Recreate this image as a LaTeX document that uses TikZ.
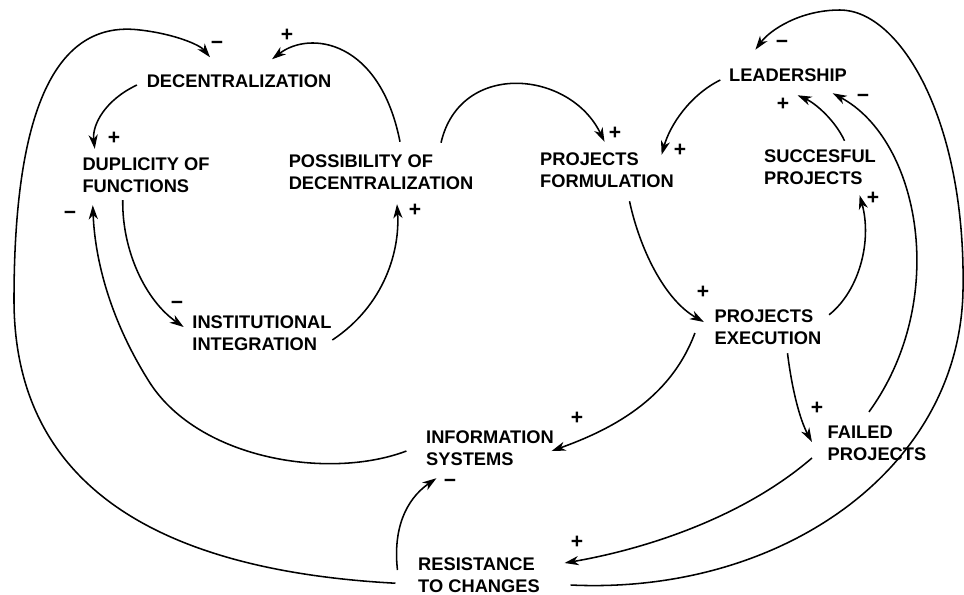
\documentclass[tikz,border=0pt]{standalone}
\usepackage{fontspec}
\setmainfont{Liberation Sans}
\usetikzlibrary{arrows.meta}

\begin{document}
\begin{tikzpicture}[->,>={Stealth[length=10pt,width=6.5pt,inset=3pt]},line width=1.1pt,
x=0.025cm,y=-0.025cm]
\tikzstyle{var}=[inner sep=0pt,align=left,font=\bfseries\fontsize{13}{15.6}\selectfont]
\tikzstyle{sign}=[inner sep=0pt,font=\bfseries\fontsize{15}{16}\selectfont]

\useasboundingbox (0,0) rectangle (964,594);

\node[var] (dec)  at (239,81)  {DECENTRALIZATION};
\node[var] (dup)  at (146,175) {DUPLICITY OF\\FUNCTIONS};
\node[var] (pos)  at (381,172) {POSSIBILITY OF\\DECENTRALIZATION};
\node[var] (pf)   at (607,170) {PROJECTS\\FORMULATION};
\node[var] (lead) at (788,75)  {LEADERSHIP};
\node[var] (succ) at (820,167) {SUCCESFUL\\PROJECTS};
\node[var] (inst) at (262,333) {INSTITUTIONAL\\INTEGRATION};
\node[var] (pe)   at (768,327) {PROJECTS\\EXECUTION};
\node[var] (info) at (490,448) {INFORMATION\\SYSTEMS};
\node[var] (fail) at (877,443) {FAILED\\PROJECTS};
\node[var] (res)  at (479,575) {RESISTANCE\\TO CHANGES};

% outer loops
\draw ([shift={(-22,-10)}]res.south west) .. controls (150,570) and (14,480) .. (14,300)
  .. controls (14,100) and (60,20) .. (140,30)
  .. controls (175,34) and (200,45) .. ([shift={(-29,-16.5)}]dec.north);
\draw ([shift={(30,10)}]res.east) .. controls (780,595) and (960,470) .. (963,290)
  .. controls (966,120) and (900,10) .. (840,10)
  .. controls (800,10) and (770,30) .. ([shift={(27,-18)}]lead.north west);
\draw ([shift={(-19,3)}]info.west) .. controls (330,480) and (200,460) .. (150,383)
  .. controls (110,320) and (95,260) .. ([shift={(11,12)}]dup.south west);

% left part
\draw ([shift={(-9,4)}]dec.west) .. controls (105,100) and (92,125) .. ([shift={(13,-8)}]dup.north west);
\draw ([shift={(19,-12)}]pos.north) .. controls (380,40) and (310,30) .. ([shift={(33,-14.5)}]dec.north);
\draw ([shift={(41,7)}]dup.south west) .. controls (122,250) and (145,300) .. ([shift={(-8,-6)}]inst.west);
\draw ([shift={(0,7)}]inst.east) .. controls (385,305) and (400,250) .. ([shift={(16,14)}]pos.south);
\draw ([shift={(-33,-11)}]pos.north east) .. controls (460,60) and (570,70) .. ([shift={(-2.5,-10)}]pf.north);

% right part
\draw ([shift={(-8,5)}]lead.west) .. controls (690,95) and (670,125) .. ([shift={(-13,3)}]pf.north east);
\draw ([shift={(42,-13)}]fail.north west) .. controls (950,300) and (920,140) .. ([shift={(-15,11)}]lead.south east);
\draw ([shift={(24.5,-8)}]succ.north) .. controls (835,120) and (815,103) .. ([shift={(9.5,13)}]lead.south);
\draw ([shift={(7,6)}]pe.north east) .. controls (860,290) and (872,240) .. ([shift={(-17,10)}]succ.south east);
\draw ([shift={(22.5,13)}]pf.south) .. controls (640,250) and (665,300) .. ([shift={(-10,-5)}]pe.west);
\draw ([shift={(-19,6)}]pe.west) .. controls (670,400) and (610,430) .. ([shift={(-3,3)}]info.east);
\draw ([shift={(19.5,8)}]pe.south) .. controls (792,390) and (800,420) .. ([shift={(-15,-1)}]fail.west);
\draw ([shift={(-15,15)}]fail.west) .. controls (740,520) and (640,550) .. ([shift={(24,-12)}]res.east);
\draw ([shift={(-20,-5)}]res.west) .. controls (393,530) and (405,500) .. ([shift={(11,12)}]info.south west);

% signs
\node[sign] (s1)  at (217,45)  {−};
\node[sign] (s2)  at (114,138) {+};
\node[sign] (s3)  at (287,35)  {+};
\node[sign] (s4)  at (615,133) {+};
\node[sign] (s5)  at (680,150) {+};
\node[sign] (s6)  at (782,44)  {−};
\node[sign] (s7)  at (863,98)  {−};
\node[sign] (s8)  at (783,104) {+};
\node[sign] (s9)  at (873,198) {+};
\node[sign] (s10) at (703,292) {+};
\node[sign] (s11) at (577,418) {+};
\node[sign] (s12) at (817,408) {+};
\node[sign] (s13) at (577,542) {+};
\node[sign] (s14) at (450,483) {−};
\node[sign] (s15) at (70,215)  {−};
\node[sign] (s16) at (177,305) {−};
\node[sign] (s17) at (415,210) {+};
\end{tikzpicture}
\end{document}
